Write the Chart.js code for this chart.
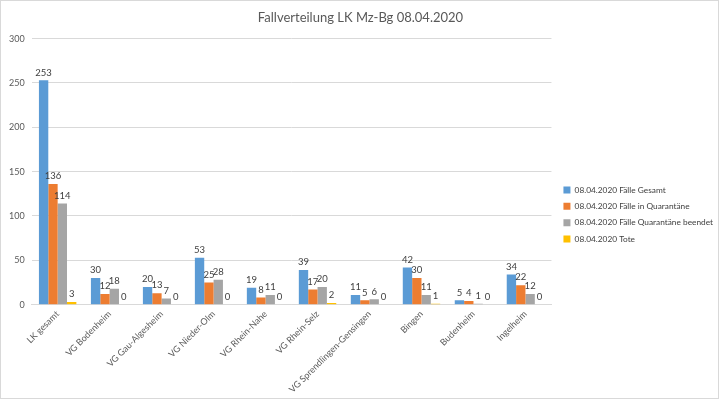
<!DOCTYPE html>
<html><head><meta charset="utf-8">
<script src="https://cdn.jsdelivr.net/npm/chart.js@4/dist/chart.umd.min.js"></script>
<style>
html,body{margin:0;padding:0;background:#fff;}
canvas{display:block;}
</style></head><body>
<canvas id="c" width="719" height="399"></canvas>
<script>
const categories = ["LK gesamt","VG Bodenheim","VG Gau-Algesheim","VG Nieder-Olm","VG Rhein-Nahe","VG Rhein-Selz","VG Sprendlingen-Gensingen","Bingen","Budenheim","Ingelheim"];
const seriesNames = ["08.04.2020 Fälle Gesamt","08.04.2020 Fälle in Quarantäne","08.04.2020 Fälle Quarantäne beendet","08.04.2020 Tote"];
const faelleGesamt = [253,30,20,53,19,39,11,42,5,34];
const faelleQuarantaene = [136,12,13,25,8,17,5,30,4,22];
const quarantaeneBeendet = [114,18,7,28,11,20,6,11,1,12];
const tote = [3,0,0,0,0,2,0,1,0,0];
const yTicks = [0,50,100,150,200,250,300];
const colors = ["#5B9BD5","#ED7D31","#A5A5A5","#FFC000"];
const FONT = "Lato, 'Open Sans', sans-serif";

const frame = {
  id:'frame',
  afterLayout(chart){
    if (chart.legend){
      chart.legend.top += 13; chart.legend.bottom += 13;
      chart.legend.left += 4; chart.legend.right += 4;
    }
  },
  beforeDraw(chart){
    const ctx = chart.ctx;
    ctx.save();
    ctx.fillStyle = "#fff";
    ctx.fillRect(0,0,chart.width,chart.height);
    ctx.strokeStyle = "#d9d9d9";
    ctx.lineWidth = 1;
    ctx.strokeRect(0.5,0.5,chart.width-1,chart.height-1);
    ctx.restore();
  }
};

const valueLabels = {
  id:'valueLabels',
  afterDatasetsDraw(chart){
    const ctx = chart.ctx;
    ctx.save();
    ctx.font = "9.5px " + FONT;
    ctx.fillStyle = "#404040";
    ctx.textAlign = "center";
    ctx.textBaseline = "bottom";
    chart.data.datasets.forEach((ds,i)=>{
      const meta = chart.getDatasetMeta(i);
      meta.data.forEach((bar,j)=>{
        ctx.fillText(String(ds.data[j]), bar.x, bar.y - 3);
      });
    });
    ctx.restore();
  }
};

const datasets = [faelleGesamt,faelleQuarantaene,quarantaeneBeendet,tote].map((d,i)=>({
  label: seriesNames[i], data: d, backgroundColor: colors[i], borderWidth:0,
  categoryPercentage:0.72, barPercentage:1.0
}));

new Chart(document.getElementById('c'),{
  type:'bar',
  data:{labels:categories,datasets},
  plugins:[frame,valueLabels],
  options:{
    responsive:false, animation:false,
    layout:{padding:{left:2,right:0,top:4,bottom:0}},
    plugins:{
      title:{display:true,text:"Fallverteilung LK Mz-Bg 08.04.2020",color:"#595959",
        font:{family:FONT,size:13,weight:'normal'},padding:{top:6,bottom:13}},
      legend:{position:'right',align:'center',
        labels:{boxWidth:7,boxHeight:7,color:"#404040",padding:8,font:{family:FONT,size:8.3}}},
      tooltip:{enabled:false}
    },
    scales:{
      x:{grid:{display:false,drawTicks:false},border:{display:true,color:"#d9d9d9"},
        ticks:{color:"#595959",font:{family:FONT,size:9},maxRotation:45,minRotation:45,autoSkip:false,padding:4}},
      y:{min:0,max:300,afterBuildTicks(ax){ax.ticks=yTicks.map(v=>({value:v}));},
        grid:{color:"#d9d9d9",drawTicks:false},border:{display:false},
        ticks:{color:"#595959",font:{family:FONT,size:9},padding:7}}
    }
  }
});
</script></body></html>
